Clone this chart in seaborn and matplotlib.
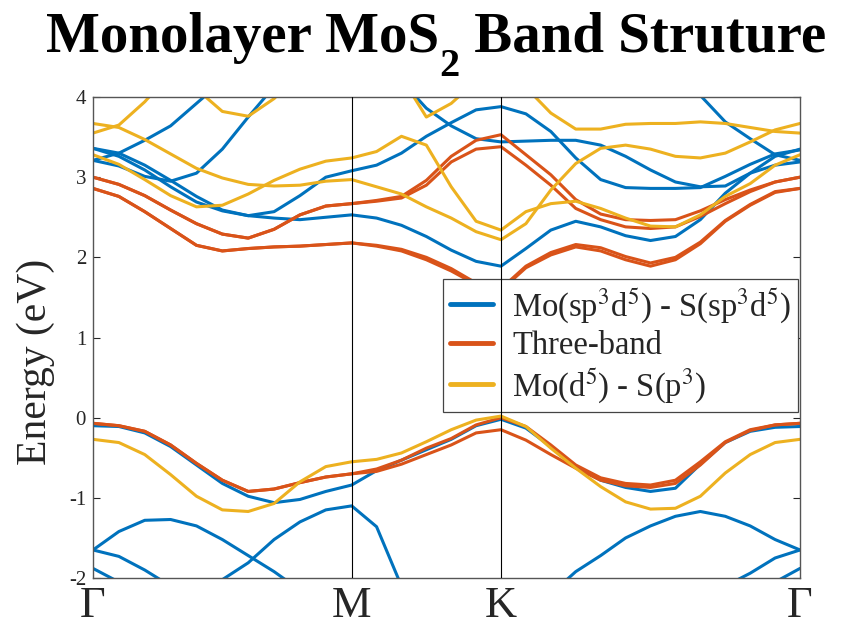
import numpy as np
import pandas as pd
import matplotlib
matplotlib.use("Agg")
import matplotlib.pyplot as plt
import seaborn as sns
from matplotlib.lines import Line2D

nan = np.nan

# ---- path and labels ----
K_LABELS = ["Γ", "M", "K", "Γ"]
K_NODES = [0.0, 0.577, 0.910, 1.577]
SEG_STEPS = [10, 6, 12]

MODELS = [r"Mo(sp$^3$d$^5$) - S(sp$^3$d$^5$)", "Three-band", r"Mo(d$^5$) - S(p$^3$)"]
COLORS = ["#0072BD", "#D95319", "#EDB120"]
TITLE_PARTS = ["Monolayer MoS", "2", " Band Struture"]

# ---- Mo(sp3d5)-S(sp3d5) bands (eV) ----
blue_v1 = [-0.10, -0.11, -0.19, -0.36, -0.59, -0.82, -0.98, -1.06, -1.02, -0.92, -0.84,
           -0.66, -0.53, -0.40, -0.27, -0.10, -0.02,
           -0.13, -0.36, -0.61, -0.78, -0.87, -0.92, -0.88, -0.58, -0.31, -0.17, -0.12, -0.11]
blue_v2 = [-1.65, -1.42, -1.28, -1.27, -1.35, -1.52, -1.72, -1.92, -2.15] + [nan] * 20
blue_v3 = [-1.65, -1.73, -1.90, -2.10] + [nan] * 25
blue_v4 = [-1.88, -2.05] + [nan] * 27
blue_v5 = [nan] * 4 + [-2.30, -2.02, -1.81, -1.52, -1.30, -1.15, -1.10, -1.36, -2.10] + [nan] * 16
blue_v6 = [nan] * 18 + [-2.20, -1.92, -1.72, -1.50, -1.35, -1.23, -1.17, -1.23, -1.35, -1.52, -1.65]
blue_v7 = [nan] * 25 + [-2.10, -1.94, -1.75, -1.65]
blue_v8 = [nan] * 27 + [-2.05, -1.88]
blue_c1 = [3.36, 3.30, 3.15, 2.96, 2.76, 2.59, 2.52, 2.57, 2.77, 3.00, 3.08,
           3.15, 3.30, 3.51, 3.68, 3.84, 3.88,
           3.79, 3.57, 3.24, 2.97, 2.87, 2.86, 2.86, 2.87, 3.01, 3.16, 3.29, 3.34]
blue_c2 = [3.36, 3.26, 3.09, 2.88, 2.69, 2.58, 2.52, 2.49, 2.47, 2.50, 2.53,
           2.49, 2.40, 2.26, 2.09, 1.95, 1.89,
           2.11, 2.34, 2.45, 2.38, 2.27, 2.21, 2.26, 2.47, 2.80, 3.05, 3.26, 3.35]
blue_c3 = [3.21, 3.30, 3.46, 3.64, 3.92, 4.20] + [nan] * 23
blue_c4 = [3.21, 3.14, 3.01, 2.95, 3.05, 3.35, 3.75, 4.13] + [nan] * 21
blue_c5 = [nan] * 12 + [4.20, 3.86, 3.64, 3.48, 3.44,
                        3.45, 3.46, 3.46, 3.40, 3.26, 3.09, 2.94, 2.88, 2.89, 3.05, 3.15, 3.19]
blue_c6 = [nan] * 23 + [4.35, 4.02, 3.69, 3.48, 3.28, 3.21]

# ---- Three-band model (eV) ----
orange_v1 = [-0.07, -0.10, -0.17, -0.34, -0.57, -0.78, -0.92, -0.89, -0.81, -0.74, -0.70,
             -0.64, -0.53, -0.38, -0.26, -0.09, 0.00,
             -0.11, -0.34, -0.59, -0.75, -0.82, -0.84, -0.78, -0.55, -0.30, -0.15, -0.09, -0.07]
orange_v2 = [-0.07, -0.10, -0.17, -0.34, -0.57, -0.78, -0.92, -0.89, -0.81, -0.74, -0.70,
             -0.67, -0.58, -0.46, -0.34, -0.19, -0.15,
             -0.28, -0.46, -0.63, -0.78, -0.85, -0.87, -0.82, -0.59, -0.31, -0.16, -0.09, -0.07]
orange_c1 = [2.86, 2.76, 2.57, 2.36, 2.15, 2.08, 2.11, 2.13, 2.14, 2.16, 2.18,
             2.14, 2.08, 1.97, 1.83, 1.66, 1.59,
             1.87, 2.03, 2.13, 2.08, 1.97, 1.89, 1.97, 2.17, 2.45, 2.65, 2.81, 2.86]
orange_c2 = [2.86, 2.76, 2.57, 2.36, 2.15, 2.08, 2.11, 2.13, 2.14, 2.16, 2.18,
             2.15, 2.10, 2.00, 1.86, 1.68, 1.61,
             1.89, 2.06, 2.16, 2.12, 2.01, 1.93, 2.00, 2.19, 2.46, 2.66, 2.82, 2.86]
orange_c3 = [3.00, 2.91, 2.77, 2.59, 2.42, 2.29, 2.24, 2.35, 2.53, 2.64, 2.67,
             2.71, 2.76, 2.96, 3.26, 3.46, 3.53,
             3.28, 3.03, 2.72, 2.54, 2.47, 2.46, 2.47, 2.58, 2.72, 2.84, 2.94, 3.00]
orange_c4 = [3.00, 2.91, 2.77, 2.59, 2.42, 2.29, 2.24, 2.35, 2.53, 2.64, 2.67,
             2.70, 2.74, 2.90, 3.19, 3.35, 3.38,
             3.15, 2.90, 2.61, 2.47, 2.38, 2.36, 2.38, 2.51, 2.67, 2.82, 2.94, 3.00]

# ---- Mo(d5)-S(p3) bands (eV) ----
yellow_v1 = [-0.27, -0.31, -0.46, -0.71, -0.98, -1.15, -1.17, -1.07, -0.80, -0.61, -0.55,
             -0.52, -0.44, -0.30, -0.15, -0.03, 0.02,
             -0.11, -0.38, -0.63, -0.86, -1.05, -1.14, -1.13, -0.98, -0.69, -0.46, -0.31, -0.27]
yellow_c1 = [3.28, 3.16, 2.97, 2.77, 2.63, 2.65, 2.79, 2.96, 3.10, 3.20, 3.24,
             3.32, 3.51, 3.40, 2.88, 2.45, 2.34,
             2.57, 2.67, 2.70, 2.61, 2.49, 2.39, 2.38, 2.53, 2.76, 2.92, 3.15, 3.28]
yellow_c2 = [3.67, 3.62, 3.47, 3.29, 3.11, 2.99, 2.91, 2.89, 2.90, 2.95, 2.97,
             2.88, 2.79, 2.63, 2.49, 2.32, 2.22,
             2.42, 2.84, 3.17, 3.36, 3.40, 3.35, 3.26, 3.24, 3.30, 3.44, 3.59, 3.67]
yellow_c3 = [3.55, 3.65, 3.94, 4.30] + [nan] * 25
yellow_c4 = [nan] * 4 + [4.10, 3.82, 3.76, 3.98, 4.30] + [nan] * 20
yellow_c5 = [nan] * 12 + [4.25, 3.75, 3.92, 4.20] + [nan] * 13
yellow_c6 = [nan] * 17 + [4.12, 3.80, 3.60, 3.60, 3.66, 3.67, 3.67, 3.69, 3.67, 3.62, 3.57, 3.55]

bands_by_model = {
    MODELS[0]: [blue_v1, blue_v2, blue_v3, blue_v4, blue_v5, blue_v6, blue_v7, blue_v8,
                blue_c1, blue_c2, blue_c3, blue_c4, blue_c5, blue_c6],
    MODELS[1]: [orange_v1, orange_v2, orange_c1, orange_c2, orange_c3, orange_c4],
    MODELS[2]: [yellow_v1, yellow_c1, yellow_c2, yellow_c3, yellow_c4, yellow_c5, yellow_c6],
}

# k grid along the path
segs = []
for i, n in enumerate(SEG_STEPS):
    pts = np.linspace(K_NODES[i], K_NODES[i + 1], n + 1)
    segs.append(pts if i == 0 else pts[1:])
kgrid = np.concatenate(segs)

rows = []
for model, bands in bands_by_model.items():
    for j, vals in enumerate(bands):
        for kk, e in zip(kgrid, vals):
            rows.append({"k": kk, "E": e, "model": model, "band": f"{model}_{j}"})
df = pd.DataFrame(rows).dropna()

sns.set_style("white")
plt.rcParams["font.family"] = ["Liberation Serif", "DejaVu Serif"]
plt.rcParams["mathtext.fontset"] = "stix"
plt.rcParams["axes.unicode_minus"] = False

W, H = 854, 632
fig = plt.figure(figsize=(W / 100, H / 100), dpi=100)
ax = fig.add_axes([0.1089, 0.0854, 0.8279, 0.7611])

sns.lineplot(data=df, x="k", y="E", hue="model", units="band", estimator=None,
             hue_order=MODELS, palette=COLORS, lw=2.2, legend=False, sort=True, ax=ax)

for kn in K_NODES[1:3]:
    ax.axvline(kn, color="black", lw=0.8, zorder=6)

ax.set_xlim(K_NODES[0], K_NODES[-1])
ax.set_ylim(-2, 4)
ax.set_xticks(K_NODES)
ax.set_xticklabels(K_LABELS)
ax.set_yticks([-2, -1, 0, 1, 2, 3, 4])
ax.tick_params(axis="x", length=0, labelsize=32, pad=6, colors="#262626")
ax.tick_params(axis="y", direction="in", length=5, width=0.8, left=True, right=True,
               labelsize=15, pad=5, colors="#262626")
ax.set_xlabel("")
ax.set_ylabel("Energy (eV)", fontsize=30, color="#262626")
ax.yaxis.set_label_coords(-0.054, 0.45)
for s in ax.spines.values():
    s.set_color("#555555")
    s.set_linewidth(1.0)

# Title built from pieces so the subscript sits low like the reference
renderer = fig.canvas.get_renderer()
fs_main, fs_sub = 41, 29
base_y = 1 - 52 / H
sub_y = 1 - 76 / H
pieces = []
for txt, fs, y in [(TITLE_PARTS[0], fs_main, base_y), (TITLE_PARTS[1], fs_sub, sub_y),
                   (TITLE_PARTS[2], fs_main, base_y)]:
    t = fig.text(0, y, txt, fontsize=fs, fontweight="bold", color="black",
                 ha="left", va="baseline")
    pieces.append(t)
widths = [p.get_window_extent(renderer).width for p in pieces]
x = 436 / W - sum(widths) / W / 2
for p, w in zip(pieces, widths):
    p.set_x(x)
    x += w / W

handles = [Line2D([], [], color=c, lw=3.5) for c in COLORS]
leg = ax.legend(handles, MODELS, loc="lower right", bbox_to_anchor=(0.997, 0.345),
                fontsize=23.5, frameon=True, fancybox=False, edgecolor="#444444",
                framealpha=1, handlelength=1.32, borderpad=0.2, labelspacing=0.15,
                handletextpad=0.6, borderaxespad=0)
leg.get_frame().set_linewidth(0.9)

fig.savefig("out.png", dpi=100)
